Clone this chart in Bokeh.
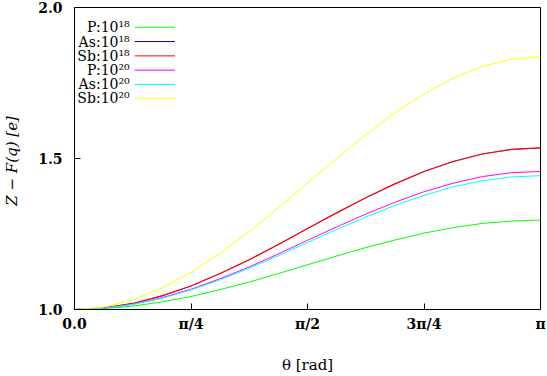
import numpy as np
from bokeh.plotting import figure
from bokeh.models import Range1d, FixedTicker
from bokeh.core.properties import value
from bokeh.embed import file_html
from bokeh.resources import INLINE

# angle samples (fractions of pi)
theta_frac = [k / 16 for k in range(17)]
theta = [f * np.pi for f in theta_frac]

P18 = [1.000, 1.003, 1.011, 1.025, 1.043, 1.066, 1.091, 1.119, 1.148, 1.177, 1.205, 1.230, 1.253, 1.271, 1.285, 1.293, 1.296]
As18 = [1.000, 1.005, 1.020, 1.045, 1.078, 1.119, 1.165, 1.215, 1.268, 1.320, 1.370, 1.416, 1.457, 1.490, 1.515, 1.530, 1.535]
Sb18 = [1.000, 1.005, 1.020, 1.045, 1.078, 1.119, 1.165, 1.215, 1.268, 1.320, 1.370, 1.416, 1.457, 1.490, 1.515, 1.530, 1.535]
P20 = [1.000, 1.004, 1.017, 1.039, 1.067, 1.102, 1.141, 1.184, 1.229, 1.273, 1.316, 1.355, 1.390, 1.418, 1.440, 1.453, 1.457]
As20 = [1.000, 1.004, 1.017, 1.037, 1.065, 1.098, 1.137, 1.178, 1.222, 1.265, 1.306, 1.345, 1.378, 1.406, 1.426, 1.439, 1.443]
Sb20 = [1.000, 1.008, 1.032, 1.071, 1.123, 1.186, 1.258, 1.337, 1.419, 1.500, 1.579, 1.651, 1.714, 1.766, 1.805, 1.829, 1.837]

series_labels = ["P:10¹⁸", "As:10¹⁸", "Sb:10¹⁸", "P:10²⁰", "As:10²⁰", "Sb:10²⁰"]
series_values = [P18, As18, Sb18, P20, As20, Sb20]
series_colors = ["#00ff00", "#0000c8", "#ff0000", "#ff00ff", "#00ffff", "#ffff00"]
series_widths = [1, 0.6, 1.2, 1, 1, 1]

x_ticks = [0, np.pi / 4, np.pi / 2, 3 * np.pi / 4, np.pi]
x_tick_labels = ["0.0", "π/4", "π/2", "3π/4", "π"]
y_ticks = [1.0, 1.5, 2.0]
y_tick_labels = ["1.0", "1.5", "2.0"]

W, H = 547, 376
L, R, T, B = 67, 7, 7, 63
FW, FH = W - L - R, H - T - B

p = figure(width=W, height=H, output_backend="svg", toolbar_location=None,
           x_range=Range1d(0, np.pi), y_range=Range1d(1.0, 2.0),
           min_border_left=L, min_border_right=R, min_border_top=T, min_border_bottom=B)
p.grid.visible = False
p.outline_line_color = "black"
p.outline_line_width = 1
p.background_fill_color = "white"
p.border_fill_color = "white"

font = "DejaVu Serif"
p.xaxis.ticker = FixedTicker(ticks=x_ticks)
p.xaxis.major_label_overrides = {t: s for t, s in zip(x_ticks, x_tick_labels)}
p.yaxis.ticker = FixedTicker(ticks=y_ticks)
p.yaxis.major_label_overrides = {t: s for t, s in zip(y_ticks, y_tick_labels)}
for ax in (p.xaxis[0], p.yaxis[0]):
    ax.major_tick_in = 6
    ax.major_tick_out = 0
    ax.minor_tick_in = 0
    ax.minor_tick_out = 0
    ax.axis_line_color = "black"
    ax.major_tick_line_color = "black"
    ax.major_label_text_font = font
    ax.major_label_text_font_style = "bold"
    ax.major_label_text_font_size = "14px"
    ax.major_label_text_color = "black"
    ax.axis_label_text_font = font
    ax.axis_label_text_font_size = "15px"
    ax.axis_label_text_color = "black"
p.xaxis.axis_label_text_font_style = "normal"
p.yaxis.axis_label_text_font_style = "italic"
p.xaxis.major_label_standoff = 6
p.yaxis.major_label_standoff = 12
p.xaxis.axis_label = "θ [rad]"
p.yaxis.axis_label = "Z − F(q)  [e]"
p.xaxis.axis_label_standoff = 21
p.yaxis.axis_label_standoff = 14

for vals, col, lw in zip(series_values, series_colors, series_widths):
    p.line(theta, vals, line_color=col, line_width=lw)

# legend (label then sample line), placed in pixel positions converted to data
def dx(px):
    return (px - L) / FW * np.pi

def dy(py):
    return 1.0 + (T + FH - py) / FH

leg_y = [27, 41.5, 56, 70.5, 85, 99]
for lab, col, yy in zip(series_labels, series_colors, leg_y):
    p.text(x=[dx(123)], y=[dy(yy)], text=[lab], text_align="right", text_baseline="middle",
           text_font=value(font), text_font_size="14px", text_color="black")
    p.segment(x0=[dx(128)], y0=[dy(yy)], x1=[dx(169)], y1=[dy(yy)], line_color=col, line_width=1)

open("out.html", "w").write(file_html(p, INLINE))
